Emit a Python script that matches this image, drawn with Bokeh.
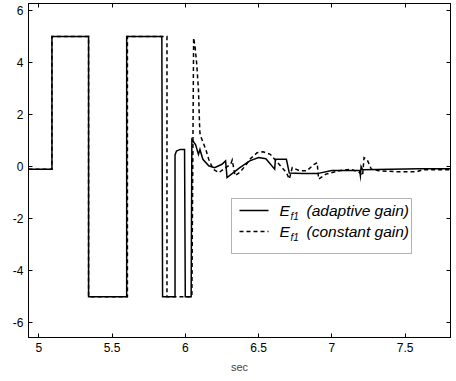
from bokeh.plotting import figure
from bokeh.models import Range1d, LinearAxis, FixedTicker, Label, BoxAnnotation, Arrow
from bokeh.embed import file_html
from bokeh.resources import INLINE

# ---- data ----
t_adaptive = [4.93, 5.09, 5.09, 5.34, 5.34, 5.60, 5.60, 5.84, 5.845, 5.93, 5.93, 5.94, 5.965,
              5.995, 6.0, 6.04, 6.045, 6.07, 6.09, 6.10, 6.12, 6.16, 6.20, 6.25, 6.275, 6.285,
              6.37, 6.44, 6.50, 6.55, 6.61, 6.615, 6.69, 6.71, 6.80, 6.90, 7.00, 7.10, 7.19,
              7.195, 7.20, 7.21, 7.40, 7.60, 7.81]
e_adaptive = [-0.1, -0.1, 5.0, 5.0, -5.0, -5.0, 5.0, 5.0, -5.0, -5.0, 0.45, 0.6, 0.66,
              0.66, -5.0, -5.0, 1.04, 0.85, 0.47, 0.66, 0.28, 0.03, -0.04, 0.09, 0.22, -0.42,
              -0.05, 0.22, 0.35, 0.3, -0.1, 0.28, 0.28, -0.25, -0.27, -0.27, -0.15, -0.15, -0.15,
              -0.35, 0.0, -0.12, -0.1, -0.08, -0.08]

t_constant = [4.93, 5.09, 5.09, 5.34, 5.34, 5.605, 5.605, 5.875, 5.875, 6.045, 6.057, 6.067,
              6.078, 6.09, 6.097, 6.10, 6.11, 6.14, 6.16, 6.19, 6.23, 6.26, 6.31, 6.32, 6.34,
              6.37, 6.41, 6.44, 6.49, 6.53, 6.58, 6.62, 6.66, 6.69, 6.71, 6.73, 6.78, 6.83,
              6.88, 6.90, 6.91, 6.96, 7.05, 7.13, 7.19, 7.21, 7.22, 7.24, 7.27, 7.32, 7.45,
              7.58, 7.62, 7.81]
e_constant = [-0.1, -0.1, 5.0, 5.0, -5.0, -5.0, 5.0, 5.0, -5.0, -5.0, 4.95, 4.59,
              3.95, 2.94, 1.67, 1.29, 1.10, 0.66, 0.28, -0.10, -0.23, -0.10, 0.09, 0.25, -0.35,
              -0.23, 0.03, 0.28, 0.53, 0.57, 0.47, 0.22, -0.04, -0.23, -0.48, -0.04, -0.16, -0.16,
              0.09, 0.15, -0.48, -0.29, -0.16, -0.10, -0.23, -0.35, 0.34, 0.28, -0.10, -0.16, -0.20,
              -0.20, -0.12, -0.12]

x_ticks = [5, 5.5, 6, 6.5, 7, 7.5]
x_tick_labels = ["5", "5.5", "6", "6.5", "7", "7.5"]
y_ticks = [-6, -4, -2, 0, 2, 4, 6]
y_tick_labels = ["-6", "-4", "-2", "0", "2", "4", "6"]
x_label = "sec"
legend_symbol = "E"
legend_sub = "f1"
legend_texts = ["(adaptive gain)", "(constant gain)"]

FONT = "Liberation Sans"

p = figure(width=452, height=375, output_backend="svg", toolbar_location=None, title=None,
           x_range=Range1d(4.93, 7.81), y_range=Range1d(-6.57, 6.27),
           min_border_left=28, min_border_right=2, min_border_top=3, min_border_bottom=37,
           background_fill_color="white", border_fill_color="white")
p.grid.visible = False
p.outline_line_color = "black"
p.outline_line_width = 1

p.add_layout(LinearAxis(), "above")
p.add_layout(LinearAxis(), "right")

for ax in p.xaxis:
    ax.ticker = FixedTicker(ticks=x_ticks)
    ax.major_label_overrides = {k: v for k, v in zip(x_ticks, x_tick_labels)}
for ax in p.yaxis:
    ax.ticker = FixedTicker(ticks=y_ticks)
    ax.major_label_overrides = {k: v for k, v in zip(y_ticks, y_tick_labels)}

for ax in list(p.xaxis) + list(p.yaxis):
    ax.major_tick_in = 4
    ax.major_tick_out = 0
    ax.minor_tick_in = 0
    ax.minor_tick_out = 0
    ax.axis_line_color = "black"
    ax.major_tick_line_color = "black"
    ax.major_label_text_font = FONT
    ax.major_label_text_font_size = "12px"
    ax.major_label_text_color = "black"
    ax.major_label_standoff = 5

# top/right axes: ticks only, no labels drawn
for ax in p.above + p.right:
    ax.major_label_text_font_size = "1px"
    ax.major_label_text_color = None
    ax.major_label_standoff = 0

bottom = p.below[0]
bottom.major_label_standoff = 5
bottom.axis_label = x_label
bottom.axis_label_text_font = FONT
bottom.axis_label_text_font_size = "11px"
bottom.axis_label_text_font_style = "normal"
bottom.axis_label_standoff = 6

p.line(t_adaptive, e_adaptive, line_color="black", line_width=1.5, line_join="miter")
p.line(t_constant, e_constant, line_color="black", line_width=1.5, line_dash="4 3",
       line_join="miter")

# ---- legend (screen units, from the frame's bottom-left) ----
box = BoxAnnotation(left=203, right=383, bottom=84, top=139,
                    left_units="screen", right_units="screen",
                    bottom_units="screen", top_units="screen",
                    fill_color="white", fill_alpha=1.0, line_color="black", line_width=1)
p.add_layout(box)

rows_y = [127, 106]
dashes = ["solid", "4 3"]
for yy, dash, txt in zip(rows_y, dashes, legend_texts):
    p.add_layout(Arrow(end=None, x_start=211, y_start=yy, x_end=240, y_end=yy,
                       start_units="screen", end_units="screen",
                       line_color="black", line_width=1.5, line_dash=dash))
    p.add_layout(Label(x=251, y=yy, x_units="screen", y_units="screen", text=legend_symbol,
                       text_font=FONT, text_font_style="italic", text_font_size="15.5px",
                       text_baseline="middle", text_color="black"))
    p.add_layout(Label(x=262, y=yy - 6, x_units="screen", y_units="screen", text=legend_sub,
                       text_font=FONT, text_font_style="italic", text_font_size="10px",
                       text_baseline="middle", text_color="black"))
    p.add_layout(Label(x=278, y=yy, x_units="screen", y_units="screen", text=txt,
                       text_font=FONT, text_font_style="italic", text_font_size="15.5px",
                       text_baseline="middle", text_color="black"))

open("out.html", "w").write(file_html(p, INLINE))
